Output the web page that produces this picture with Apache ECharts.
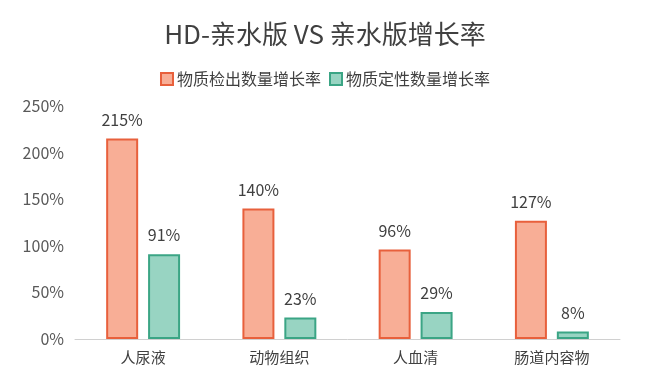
<!DOCTYPE html>
<html><head><meta charset="utf-8">
<script src="https://cdn.jsdelivr.net/npm/echarts@6/dist/echarts.min.js"></script>
<style>html,body{margin:0;padding:0;background:#fff}#c{width:650px;height:390px}</style>
</head><body><div id="c"></div>
<script>
const categories = ['人尿液', '动物组织', '人血清', '肠道内容物'];
const seriesNames = ['物质检出数量增长率', '物质定性数量增长率'];
const detectedGrowth = [215, 140, 96, 127];
const qualitativeGrowth = [91, 23, 29, 8];
const yTicks = [0, 50, 100, 150, 200, 250];

const font = '"Noto Sans CJK SC", "Noto Sans", sans-serif';
const chart = echarts.init(document.getElementById('c'), null, {renderer: 'canvas'});
const lbl = {show: true, position: 'top', distance: 11, formatter: p => p.value + '%', color: '#404040', fontSize: 16, fontFamily: font};
chart.setOption({
  animation: false,
  backgroundColor: '#fff',
  title: {text: 'HD-亲水版 VS 亲水版增长率', left: 'center', top: 16,
    textStyle: {fontSize: 26, fontWeight: 'normal', color: '#404040', fontFamily: font}},
  legend: {top: 66, left: 'center', icon: 'rect', itemWidth: 12, itemHeight: 12, itemGap: 8,
    textStyle: {fontSize: 16, color: '#404040', fontFamily: font, padding: [0, 0, 0, -1]}, data: seriesNames},
  grid: {left: 75, right: 30, top: 106, bottom: 51},
  xAxis: {type: 'category', data: categories,
    axisLine: {lineStyle: {color: '#d0d0d0', width: 1}}, axisTick: {show: false},
    axisLabel: {fontSize: 15, color: '#404040', fontFamily: font, margin: 11}},
  yAxis: {type: 'value', min: yTicks[0], max: yTicks[yTicks.length - 1], interval: 50,
    splitLine: {show: false}, axisLine: {show: false}, axisTick: {show: false},
    axisLabel: {formatter: '{value}%', fontSize: 16, color: '#595959', fontFamily: font, margin: 11}},
  series: [
    {name: seriesNames[0], type: 'bar', data: detectedGrowth, barWidth: 32, barGap: '31%',
      itemStyle: {color: '#F8AE96', borderColor: '#E8603C', borderWidth: 2}, label: lbl},
    {name: seriesNames[1], type: 'bar', data: qualitativeGrowth, barWidth: 32,
      itemStyle: {color: '#98D4C2', borderColor: '#3BA585', borderWidth: 2}, label: lbl}
  ]
});
</script></body></html>
